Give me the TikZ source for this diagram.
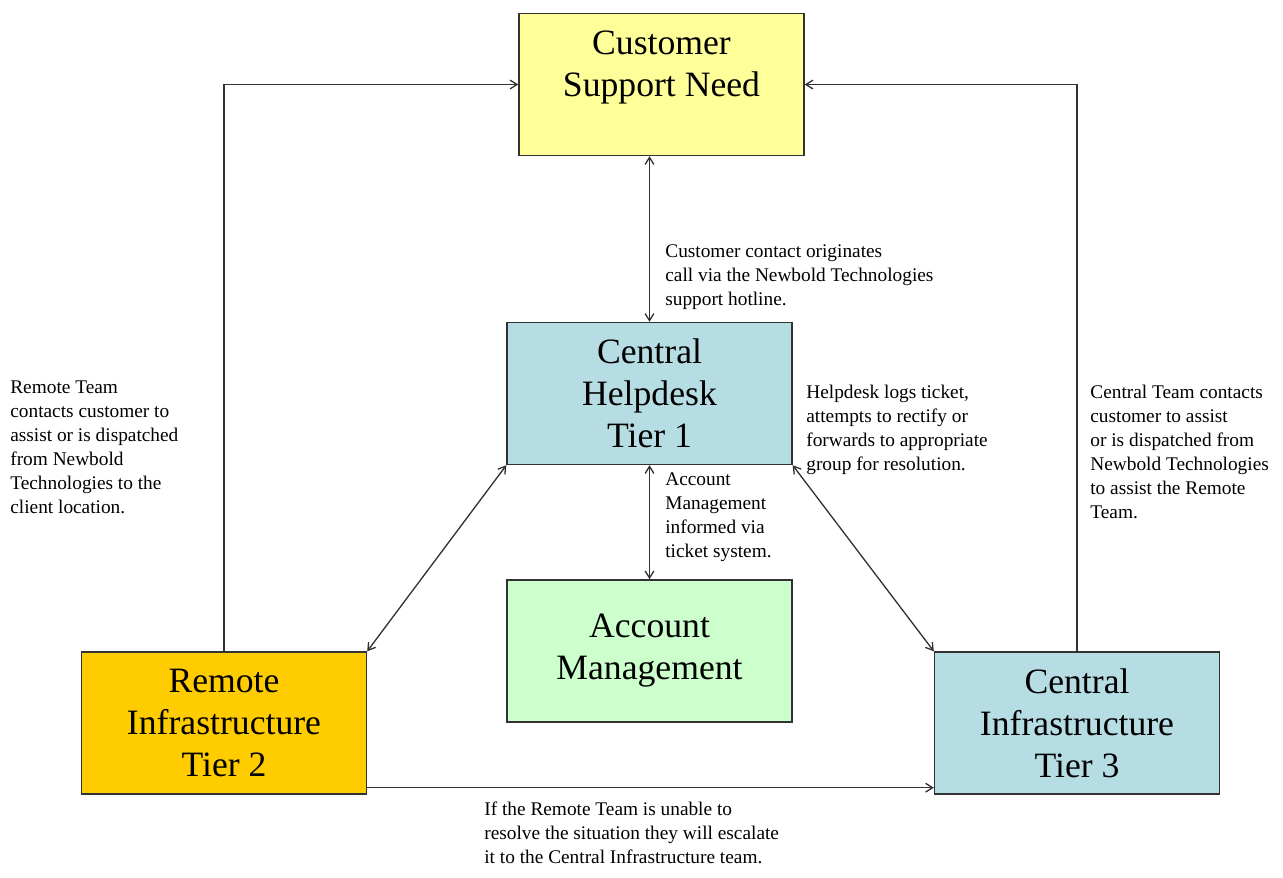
\documentclass[tikz,border=0pt]{standalone}
\usepackage{fontspec}
\setmainfont{Liberation Serif}
\usetikzlibrary{positioning,arrows.meta}
\definecolor{needcolor}{RGB}{255,255,153}
\definecolor{helpcolor}{RGB}{183,221,228}
\definecolor{accountcolor}{RGB}{204,255,204}
\definecolor{remotecolor}{RGB}{255,204,0}
\definecolor{linecolor}{RGB}{50,50,50}
\tikzset{
    tier box/.style={rectangle, draw=linecolor, line width=0.8pt, minimum width=5.7cm, minimum height=2.84cm, align=center, font=\fontsize{20.3}{23.8}\selectfont},
    need box/.style={tier box, fill=needcolor},
    help box/.style={tier box, fill=helpcolor},
    account box/.style={tier box, fill=accountcolor},
    remote box/.style={tier box, fill=remotecolor},
    note/.style={anchor=base west, align=left, inner sep=0pt, font=\fontsize{11}{13.6}\selectfont},
    flow arrow/.style={linecolor, line width=0.75pt, -{Straight Barb[length=4pt,width=5pt]}},
    both arrow/.style={flow arrow, {Straight Barb[length=4pt,width=5pt]}-{Straight Barb[length=4pt,width=5pt]}}
}
\begin{document}
\begin{tikzpicture}[x=0.02cm, y=-0.02cm, node distance=2.28cm]
\useasboundingbox (0,0) rectangle (1283,877);
\node[need box] (need) at (661.5,84.5) {Customer\\Support Need\\\mbox{}};
\node[help box] (help) at (649.5,393.5) {Central\\Helpdesk\\Tier 1};
\node[account box, below=of help] (account) {Account\\Management};
\node[remote box] (remote) at (224,723) {Remote\\Infrastructure\\Tier 2};
\node[help box] (infra) at (1077,723) {Central\\Infrastructure\\Tier 3};

\draw[both arrow] (help.north) -- (help.north |- need.south);
\draw[both arrow] (help) -- (account);
\draw[both arrow] (help.south west) -- (remote.north east);
\draw[both arrow] (help.south east) -- (infra.north west);
\draw[flow arrow] (remote.north) |- (need.west);
\draw[flow arrow] (infra.north) |- (need.east);
\draw[flow arrow] ([yshift=0.14cm]remote.south east) -- ([yshift=0.14cm]infra.south west);

% notes sit on the baseline of their last line
\node[note] (hotlinenote) at (665,305) {Customer contact originates\\call via the Newbold Technologies\\support hotline.};
\node[note] (ticketnote) at (806,470) {Helpdesk logs ticket,\\attempts to rectify or\\forwards to appropriate\\group for resolution.};
\node[note] (centralnote) at (1090,518) {Central Team contacts\\customer to assist\\or is dispatched from\\Newbold Technologies\\to assist the Remote\\Team.};
\node[note] (remotenote) at (10,513) {Remote Team\\contacts customer to\\assist or is dispatched\\from Newbold\\Technologies to the\\client location.};
\node[note] (accountnote) at (665,557) {Account\\Management\\informed via\\ticket system.};
\node[note] (escalatenote) at (484,863) {If the Remote Team is unable to\\resolve the situation they will escalate\\it to the Central Infrastructure team.};
\end{tikzpicture}
\end{document}
